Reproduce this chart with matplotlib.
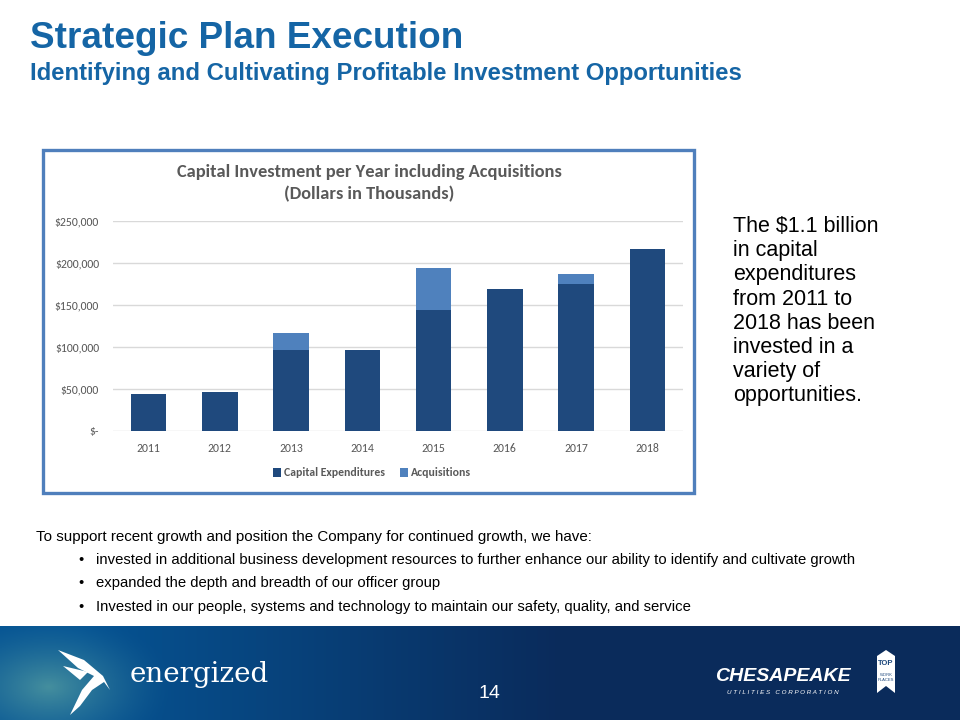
import numpy as np
import matplotlib.pyplot as plt
from matplotlib.patches import Rectangle, Polygon

years = ['2011', '2012', '2013', '2014', '2015', '2016', '2017', '2018']
capex = [44300, 46300, 96500, 96500, 143500, 169500, 175400, 216100]
acquisitions = [0, 0, 20300, 0, 51100, 0, 12000, 0]
yticks = [0, 50000, 100000, 150000, 200000, 250000]
ytick_labels = ['$-', '$50,000', '$100,000', '$150,000', '$200,000', '$250,000']

bullets = [
    'invested in additional business development resources to further enhance our ability to identify and cultivate growth',
    'expanded the depth and breadth of our officer group',
    'Invested in our people, systems and technology to maintain our safety, quality, and service',
]
side_text = ['The $1.1 billion', 'in capital', 'expenditures', 'from 2011 to',
             '2018 has been', 'invested in a', 'variety of', 'opportunities.']

dark = '#1f497d'
light = '#4f81bd'
gray = '#595959'
title_blue = '#1565a5'
arial = 'Liberation Sans'
narrow = ['Liberation Sans Narrow', 'Liberation Sans']
calibri = ['Carlito', 'Lato', 'DejaVu Sans']

W, H = 960, 720
fig = plt.figure(figsize=(9.6, 7.2), dpi=100)
fig.patch.set_facecolor('white')

def fx(px):
    return px / W

def fy(py):
    return 1 - py / H

# slide titles
fig.text(fx(30), fy(48), 'Strategic Plan Execution', fontsize=26.6, fontweight='bold',
         color=title_blue, family=narrow, va='baseline')
fig.text(fx(30), fy(80), 'Identifying and Cultivating Profitable Investment Opportunities',
         fontsize=17.2, fontweight='bold', color=title_blue, family=narrow, va='baseline')

# chart frame
fig.patches.append(Rectangle((fx(43), fy(493)), fx(651), 343 / H, transform=fig.transFigure,
                             facecolor='none', edgecolor='#4f7fbc', linewidth=2.4, zorder=5))

ax = fig.add_axes([fx(113), fy(431), fx(570), 210 / H])
x = np.arange(len(years))
ax.bar(x, capex, width=0.5, color=dark, label='Capital Expenditures', zorder=3)
ax.bar(x, acquisitions, width=0.5, bottom=capex, color=light, label='Acquisitions', zorder=3)
ax.set_xlim(-0.5, len(years) - 0.5)
ax.set_ylim(0, 250000)
ax.set_yticks(yticks)
ax.set_yticklabels(ytick_labels, family=calibri, fontsize=8.5, color=gray)
ax.set_xticks(x)
ax.set_xticklabels(years, family=calibri, fontsize=8.5, color=gray)
ax.tick_params(length=0, pad=10)
ax.tick_params(axis='x', pad=9)
ax.grid(axis='y', color='#d9d9d9', linewidth=1, zorder=0)
for s in ax.spines.values():
    s.set_visible(False)
ax.set_facecolor('none')

fig.text(fx(369), fy(172), 'Capital Investment per Year including Acquisitions',
         family=calibri, fontsize=13.2, fontweight='bold', color=gray, ha='center', va='center')
fig.text(fx(369), fy(194), '(Dollars in Thousands)',
         family=calibri, fontsize=13.2, fontweight='bold', color=gray, ha='center', va='center')

handles, labels = ax.get_legend_handles_labels()
leg = fig.legend(handles, labels, loc='center', bbox_to_anchor=(fx(372), fy(473)), ncol=2,
                 frameon=False, prop={'family': calibri, 'size': 8.5, 'weight': 'bold'},
                 handlelength=0.7, handleheight=0.7, handletextpad=0.3, columnspacing=1.2)
for t in leg.get_texts():
    t.set_color(gray)

# side text
for i, line in enumerate(side_text):
    fig.text(fx(733), fy(232 + i * 24.2), line, fontsize=15.5, family=arial,
             color='black', va='baseline')

# bottom text
fig.text(fx(36), fy(541), 'To support recent growth and position the Company for continued growth, we have:',
         fontsize=10.9, family=arial, color='black', va='baseline')
for i, b in enumerate(bullets):
    y = fy(564 + i * 23.5)
    fig.text(fx(78), y, '\u2022', fontsize=10.7, family=arial, color='black', va='baseline')
    fig.text(fx(96), y, b, fontsize=10.7, family=arial, color='black', va='baseline')

# footer band
foot = fig.add_axes([0, 0, 1, 94 / H])
xs = np.linspace(0, 1, 480)
ys = np.linspace(0, 1, 60)
X, Y = np.meshgrid(xs, ys)
base = np.array([0.04, 0.17, 0.36])
mid = np.array([0.02, 0.33, 0.58])
glow = np.array([0.27, 0.56, 0.62])
t = np.clip((X - 0.08) / 0.5, 0, 1)[..., None]
img = mid * (1 - t) + base * t
r = np.sqrt(((X - 0.05) / 0.13) ** 2 + ((Y - 0.35) / 0.8) ** 2)
g = np.clip(1 - r, 0, 1)[..., None] ** 1.5
img = img * (1 - g) + glow * g
foot.imshow(img, extent=[0, 1, 0, 1], aspect='auto', origin='lower')
foot.set_xlim(0, 1)
foot.set_ylim(0, 1)
foot.axis('off')

# bird mark (rough)
def px_pts(pts):
    return [(fx(a), (720 - b) / 94) for a, b in pts]

foot.add_patch(Polygon(px_pts([(58, 650), (84, 660), (103, 676), (110, 690), (104, 682),
                               (92, 690), (80, 706), (70, 715), (82, 690), (94, 676), (78, 668)]),
                       closed=True, facecolor='white', edgecolor='none'))
foot.add_patch(Polygon(px_pts([(63, 666), (88, 672), (80, 680)]),
                       closed=True, facecolor='white', edgecolor='none'))
foot.text(fx(130), 0.48, 'energized', fontsize=20, family='DejaVu Serif', color='white',
          va='center', ha='left')
foot.text(fx(489), 0.28, '14', fontsize=14, family=arial, color='white', va='center', ha='center')
foot.text(fx(783), 0.46, 'CHESAPEAKE', fontsize=14, family=arial, fontweight='bold',
          style='italic', color='white', va='center', ha='center')
foot.text(fx(783), 0.29, 'U T I L I T I E S   C O R P O R A T I O N', fontsize=4.5, family=arial,
          style='italic', color='white', va='center', ha='center')
foot.add_patch(Polygon(px_pts([(877, 656), (886, 650), (895, 656), (895, 693), (886, 686), (877, 693)]),
                       closed=True, facecolor='white', edgecolor='none'))
foot.text(fx(886), 0.6, 'TOP', fontsize=5.5, family=arial, fontweight='bold', color=dark,
          va='center', ha='center')
foot.text(fx(886), 0.45, 'WORK\nPLACES', fontsize=3, family=arial, color=dark,
          va='center', ha='center')

fig.savefig('out.png', dpi=100)
